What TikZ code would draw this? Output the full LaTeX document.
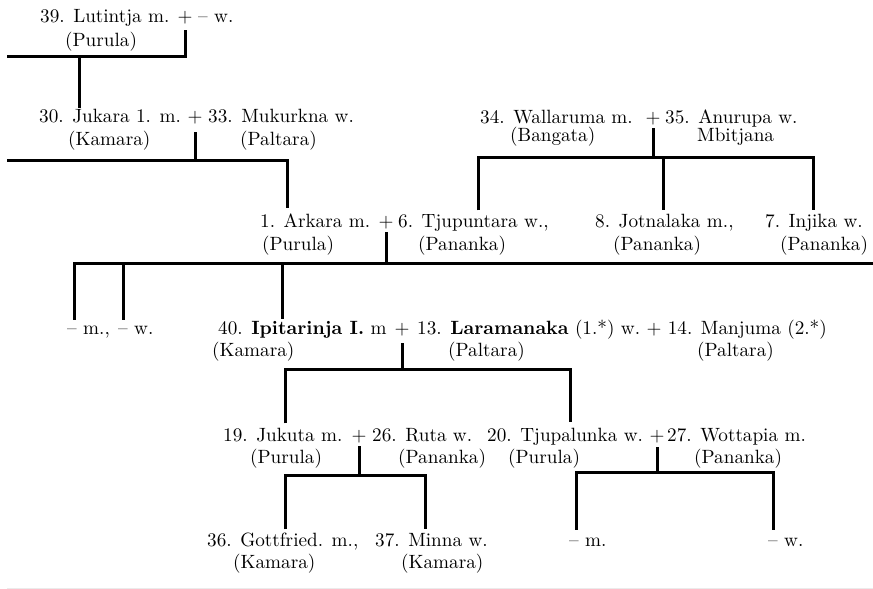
\documentclass[tikz,border=0pt]{standalone}
\usepackage{fontspec}
\setmainfont{lmroman10}[Extension=.otf,UprightFont=*-regular,BoldFont=*-bold,ItalicFont=*-italic]
\usetikzlibrary{calc}
\newcommand\gfs{\fontsize{19.2}{24}\selectfont}
\begin{document}
\begin{tikzpicture}[x=1pt,y=-1pt,
  t/.style={anchor=base west,inner sep=0pt,font=\gfs},
  pl/.style={anchor=base,inner sep=0pt,font=\gfs},
  ln/.style={line width=3pt}]
\useasboundingbox (0,0) rectangle (873,589);

% ---------- row 1
\node[t]  (n39)  at (40,22)  {39. Lutintja m.};
\node[pl] (p1)   at (185,22) {+};
\node[t]  (n39w) at (198,22) {– w.};
\node[t]  (n39c) at (65,46)  {(Purula)};

% ---------- row 2
\node[t]  (n30)  at (39,122)  {30. Jukara 1. m.};
\node[pl] (p2)   at (195,122) {+};
\node[t]  (n33)  at (208,122) {33. Mukurkna w.};
\node[t]  (n30c) at (68,145)  {(Kamara)};
\node[t]  (n33c) at (240,145) {(Paltara)};

% ---------- row 3 (right)
\node[t]  (n34)  at (480,123) {34. Wallaruma m.};
\node[pl] (p3)   at (653,123) {+};
\node[t]  (n35)  at (665,123) {35. Anurupa w.};
\node[t]  (n34c) at (510,141) {(Bangata)};
\node[t]  (n35c) at (697,141) {Mbitjana};

% ---------- row 4
\node[t]  (n1)   at (260,227) {1. Arkara m.};
\node[pl] (p4)   at (386,227) {+};
\node[t]  (n6)   at (398,227) {6. Tjupuntara w.,};
\node[t]  (n1c)  at (262,250) {(Purula)};
\node[t]  (n6c)  at (418,250) {(Pananka)};
\node[t]  (n8)   at (595,227) {8. Jotnalaka m.,};
\node[t]  (n8c)  at (613,250) {(Pananka)};
\node[t]  (n7)   at (765,227) {7. Injika w.};
\node[t]  (n7c)  at (780,250) {(Pananka)};

% ---------- row 5
\node[t]  (nm1)  at (67,334)  {– m.,};
\node[t]  (nw1)  at (118,334) {– w.};
\node[t]  (n40)  at (218,334) {40. \textbf{Ipitarinja I.} m};
\node[pl] (p5)   at (402,334) {+};
\node[t]  (n13)  at (417,334) {13. \textbf{Laramanaka} (1.*) w.};
\node[pl,anchor=base west] (p5b) at ($(n13.base east)+(6,0)$) {+};
\node[t]  (n14)  at ($(p5b.base east)+(6,0)$) {14. Manjuma (2.*)};
\node[t]  (n40c) at (212,356) {(Kamara)};
\node[t]  (n13c) at (448,356) {(Paltara)};
\node[t]  (n14c) at (697,356) {(Paltara)};

% ---------- row 6
\node[t]  (n19)  at (223,441) {19. Jukuta m.};
\node[pl] (p6)   at (359,441) {+};
\node[t]  (n26)  at (372,441) {26. Ruta w.};
\node[t]  (n20)  at (487,441) {20. Tjupalunka w.};
\node[pl] (p7)   at (657,441) {+};
\node[t]  (n27)  at (667,441) {27. Wottapia m.};
\node[t]  (n19c) at (250,463) {(Purula)};
\node[t]  (n26c) at (398,463) {(Pananka)};
\node[t]  (n20c) at (508,463) {(Purula)};
\node[t]  (n27c) at (694,463) {(Pananka)};

% ---------- row 7
\node[t]  (n36)  at (207,546) {36. Gottfried. m.,};
\node[t]  (n37)  at (375,546) {37. Minna w.};
\node[t]  (n36c) at (233,568) {(Kamara)};
\node[t]  (n37c) at (401,568) {(Kamara)};
\node[t]  (nm2)  at (569,546) {– m.};
\node[t]  (nw2)  at (768,546) {– w.};

% ---------- bar coordinates
\coordinate (b1l) at (7,56);
\coordinate (b1c) at (79,56);
\coordinate (b2l) at (7,160);
\coordinate (b2r) at (287,160);
\coordinate (b3l) at (478,157);
\coordinate (b3m) at (663,157);
\coordinate (b3r) at (813,157);
\coordinate (b4l) at (74,263);
\coordinate (b4a) at (123,263);
\coordinate (b4b) at (282,263);
\coordinate (b4r) at (873,263);
\coordinate (b5l) at (285,369);
\coordinate (b5r) at (570,369);
\coordinate (b6l) at (285,475);
\coordinate (b6r) at (425,475);
\coordinate (b7l) at (576,472);
\coordinate (b7r) at (773,472);

% ---------- connectors
% row 1 family
\draw[ln] ($(p1.south)+(0,6.4)$) |- (b1l);
\draw[ln] (b1c) -- (b1c |- n30.north);
% row 2 family
\draw[ln] (b2l) -- (b2r) -- ($(b2r |- n1.north)+(0,-5)$);
\draw[ln] ($(p2.south)+(0,8.4)$) -- (p2.south |- b2l);
% row 3 family
\draw[ln] ($(b3l |- n6.north)+(0,-3.5)$) -- (b3l) -- (b3r) -- ($(b3r |- n7.north)+(0,-3)$);
\draw[ln] ($(p3.south)+(0,3.4)$) -- (p3.south |- b3l);
\draw[ln] (b3m) -- ($(b3m |- n8.north)+(0,-3)$);
% row 4 family
\draw[ln] ($(b4l |- nm1.north)+(0,-5.5)$) -- (b4l) -- (b4r);
\draw[ln] ($(p4.south)+(0,3.4)$) -- (p4.south |- b4l);
\draw[ln] (b4a) -- ($(b4a |- nw1.north)+(0,-5.5)$);
\draw[ln] (b4b) -- ($(b4b |- n40.north)+(0,-2)$);
% row 5 family
\draw[ln] ($(b5l |- n19.north)+(0,-4)$) -- (b5l) -- (b5r) -- ($(b5r |- n20.north)+(0,-5)$);
\draw[ln] ($(p5.south)+(0,7.4)$) -- (p5.south |- b5l);
% row 6 families
\draw[ln] ($(b6l |- n36.north)+(0,-3)$) -- (b6l) -- (b6r) -- ($(b6r |- n37.north)+(0,-3.5)$);
\draw[ln] ($(p6.south)+(0,3.4)$) -- (p6.south |- b6l);
\draw[ln] ($(b7l |- nm2.north)+(0,-7.5)$) -- (b7l) -- (b7r) -- ($(b7r |- nw2.north)+(0,-7.5)$);
\draw[ln] ($(p7.south)+(0,4.4)$) -- (p7.south |- b7l);

% faint bottom rule
\draw[black!8,line width=1pt] (7,588) -- (873,588);
\end{tikzpicture}
\end{document}
